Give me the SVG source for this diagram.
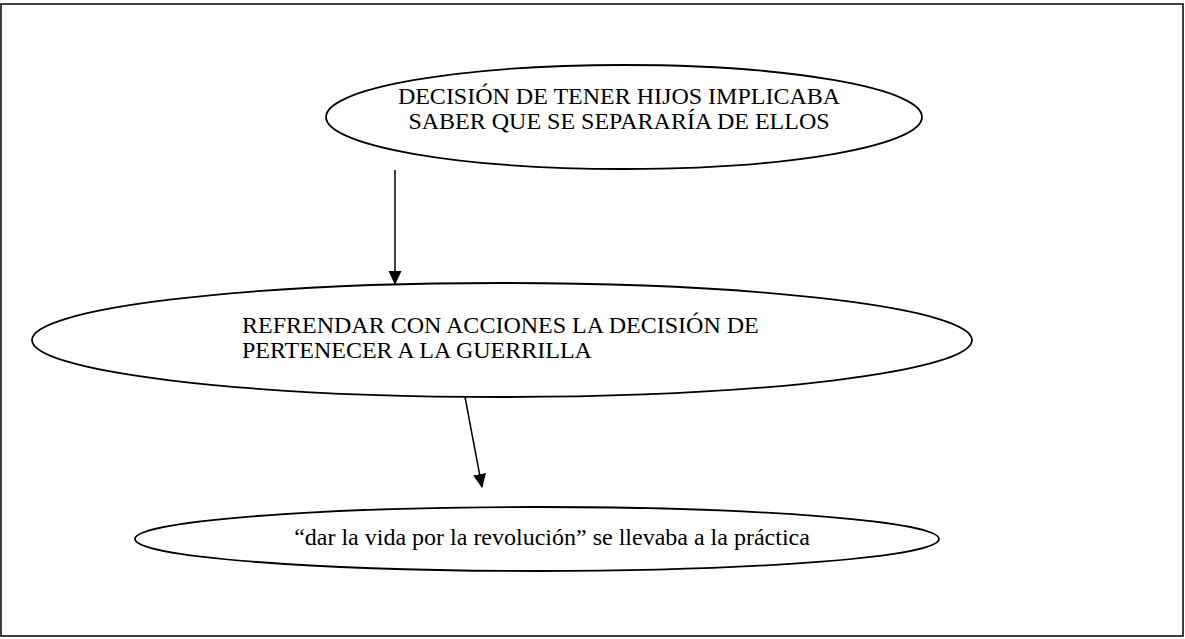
<svg xmlns="http://www.w3.org/2000/svg" width="1185" height="639" viewBox="0 0 1185 639">
<style>
.frame{fill:#fff;stroke:#000;stroke-width:1.5}
.node{fill:#fff;stroke:#000;stroke-width:1.8}
.t{font-family:'Liberation Serif','DejaVu Serif','Times New Roman',serif;font-size:24px;fill:#000}
.c{stroke:#000;stroke-width:1.5;fill:none}
</style>
<defs>
<marker id="ah" markerWidth="14" markerHeight="14" refX="13" refY="6.5" orient="auto" markerUnits="userSpaceOnUse">
<path d="M0,0 L14,6.5 L0,13 Z" fill="#000"/>
</marker>
</defs>
<rect class="frame" x="1" y="4" width="1182" height="632"/>
<g id="n1">
<ellipse class="node" cx="624" cy="117" rx="298" ry="52"/>
<text class="t" font-family="Liberation Serif, serif" x="619" y="104" text-anchor="middle">DECISIÓN DE TENER HIJOS IMPLICABA</text>
<text class="t" font-family="Liberation Serif, serif" x="619" y="129" text-anchor="middle">SABER QUE SE SEPARARÍA DE ELLOS</text>
</g>
<g id="n2">
<ellipse class="node" cx="502" cy="340" rx="470" ry="57"/>
<text class="t" font-family="Liberation Serif, serif" x="242" y="333">REFRENDAR CON ACCIONES LA DECISIÓN DE</text>
<text class="t" font-family="Liberation Serif, serif" x="242" y="358">PERTENECER A LA GUERRILLA</text>
</g>
<g id="n3">
<ellipse class="node" cx="537" cy="539" rx="402" ry="32"/>
<text class="t" font-family="Liberation Serif, serif" x="552" y="545" text-anchor="middle">“dar la vida por la revolución” se llevaba a la práctica</text>
</g>
<g id="connectors">
<line class="c" x1="395" y1="170" x2="395" y2="284" marker-end="url(#ah)"/>
<line class="c" x1="465" y1="397" x2="482" y2="487" marker-end="url(#ah)"/>
</g>
</svg>
